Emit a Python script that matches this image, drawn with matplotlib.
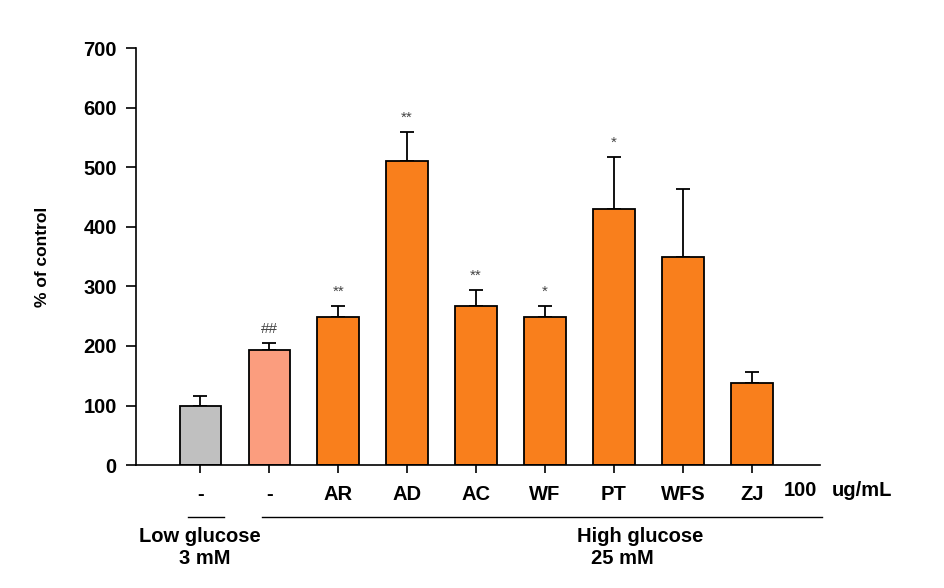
import matplotlib.pyplot as plt

plt.rcParams['font.family'] = ['Liberation Sans', 'DejaVu Sans']

groups = ['-', '-', 'AR', 'AD', 'AC', 'WF', 'PT', 'WFS', 'ZJ']
means = [99, 193, 248, 510, 267, 248, 430, 349, 138]
errs = [17, 12, 19, 49, 27, 19, 87, 114, 18]
marks = ['', '##', '**', '**', '**', '*', '*', '', '']
colors = ['#C0C0C0', '#FB9D7E'] + ['#F97F1C'] * 7

fig = plt.figure(figsize=(9.45, 5.88), dpi=100)
ax = fig.add_axes([0.144, 0.209, 0.724, 0.709])

x = list(range(len(groups)))
ax.bar(x, means, width=0.6, color=colors, edgecolor='black', linewidth=1.3, zorder=2)
ax.errorbar(x, means, yerr=[[0] * len(errs), errs], fmt='none', ecolor='black',
            elinewidth=1.3, capsize=5, capthick=1.3, zorder=1)

for xi, m, e, s in zip(x, means, errs, marks):
    if s:
        ax.text(xi, m + e + 12, s, ha='center', va='bottom', fontsize=11, color='#444444')

ax.set_xlim(-0.93, 8.99)
ax.set_ylim(0, 700)
ax.set_yticks(range(0, 701, 100))
ax.set_xticks(x)
ax.set_xticklabels(groups, fontsize=14.5, fontweight='bold')
ax.tick_params(axis='y', labelsize=14.5, length=7, width=1.2, direction='out', pad=7)
ax.tick_params(axis='x', length=6, width=1.2, direction='out', pad=8)
for lab in ax.get_yticklabels():
    lab.set_fontweight('bold')
ax.spines['top'].set_visible(False)
ax.spines['right'].set_visible(False)
ax.spines['left'].set_linewidth(1.2)
ax.spines['bottom'].set_linewidth(1.2)
ax.set_ylabel('% of control', fontsize=12.5, fontweight='bold', labelpad=24)

# dose label and group lines below the axis
fig.text(800 / 945, 1 - 490 / 588, '100', ha='center', va='center', fontsize=14.5, fontweight='bold')
fig.text(862 / 945, 1 - 490 / 588, 'ug/mL', ha='center', va='center', fontsize=14.5, fontweight='bold')
fig.add_artist(plt.Line2D([188 / 945, 224 / 945], [1 - 517 / 588] * 2, color='black', linewidth=1))
fig.add_artist(plt.Line2D([262 / 945, 822 / 945], [1 - 517 / 588] * 2, color='black', linewidth=1))
fig.text(200 / 945, 1 - 537 / 588, 'Low glucose', ha='center', va='center', fontsize=14.5, fontweight='bold')
fig.text(205 / 945, 1 - 558 / 588, '3 mM', ha='center', va='center', fontsize=14.5, fontweight='bold')
fig.text(640 / 945, 1 - 537 / 588, 'High glucose', ha='center', va='center', fontsize=14.5, fontweight='bold')
fig.text(622 / 945, 1 - 558 / 588, '25 mM', ha='center', va='center', fontsize=14.5, fontweight='bold')

fig.savefig('out.png', dpi=100)
